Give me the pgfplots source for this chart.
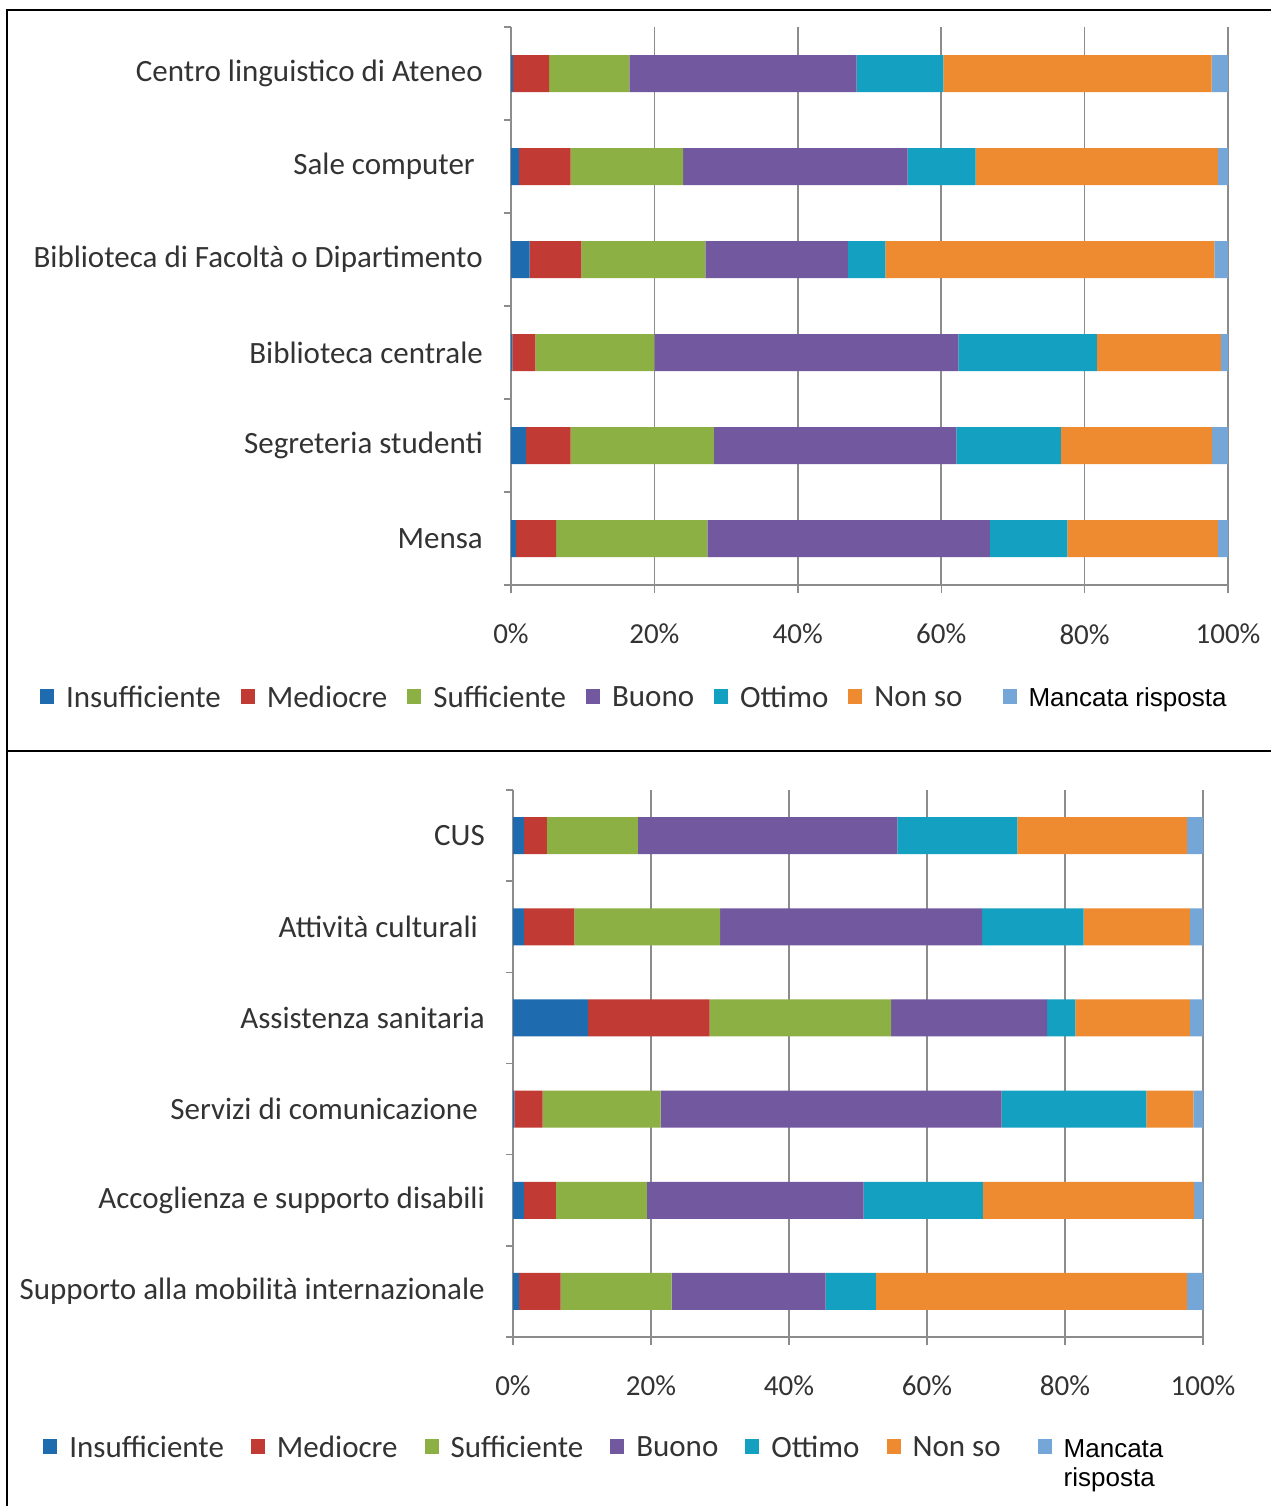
\documentclass[border=0pt]{standalone}
\usepackage{pgfplots}
\pgfplotsset{compat=1.18}
\usepackage{pgfplotstable}
\usepackage{fontspec}
\setmainfont{Carlito}
\newfontfamily\arialf{Liberation Sans}

\definecolor{cIns}{HTML}{1E6BB0}
\definecolor{cMed}{HTML}{C13A34}
\definecolor{cSuf}{HTML}{8CB044}
\definecolor{cBuo}{HTML}{71589F}
\definecolor{cOtt}{HTML}{14A0C0}
\definecolor{cNon}{HTML}{EE8A30}
\definecolor{cMan}{HTML}{75A6D8}
\definecolor{axisgray}{HTML}{8C8C8C}
\definecolor{labgray}{HTML}{333333}

% Shares of answers (percent), idx 0 = bottom bar
\pgfplotstableread{
idx ins med suf buo ott non man
5 0.3 5.0 11.2 31.7 12.1 37.4 2.3
4 1.1 7.2 15.7 31.3 9.5 33.8 1.4
3 2.6 7.2 17.3 19.9 5.2 45.9 1.9
2 0.2 3.2 16.6 42.4 19.3 17.3 1.0
1 2.1 6.2 20.0 33.8 14.6 21.1 2.2
0 0.7 5.6 21.1 39.4 10.8 21.0 1.4
}\servizia

\pgfplotstableread{
idx ins med suf buo ott non man
5 1.6 3.3 13.2 37.6 17.4 24.6 2.3
4 1.6 7.3 21.1 38.0 14.7 15.4 1.9
3 10.9 17.6 26.3 22.6 4.1 16.6 1.9
2 0.2 4.1 17.1 49.4 21.0 6.8 1.4
1 1.6 4.6 13.2 31.4 17.3 30.6 1.3
0 0.9 6.0 16.1 22.3 7.3 45.1 2.3
}\servizib

\pgfplotsset{
  svcbar/.style={
    xbar stacked, scale only axis, bar width=37pt,
    xmin=0, xmax=100, ymin=-0.5, ymax=5.5,
    xtick={0,20,40,60,80,100},
    xticklabels={0\%,20\%,40\%,60\%,80\%,100\%},
    ytick={0,1,2,3,4,5},
    minor ytick={-0.5,0.5,1.5,2.5,3.5,4.5,5.5},
    axis x line*=bottom, axis y line*=left,
    axis line style={draw=axisgray, line width=1.6pt, -},
    xmajorgrids, grid style={draw=axisgray, line width=1.6pt},
    tick align=outside,
    major tick length=8pt, minor tick length=7pt,
    tick style={draw=axisgray, line width=1.4pt},
    major y tick style={draw=none},
    /pgf/number format/assume math mode=true,
    every tick label/.append style={text=labgray},
    yticklabel style={font=\fontsize{31}{36}\selectfont, inner sep=0pt, xshift=-20pt},
    xticklabel style={font=\fontsize{29}{34}\selectfont, inner sep=0pt},
    legend columns=7,
    legend cell align=left,
    legend image code/.code={\fill[##1] (0pt,-6pt) rectangle (14pt,9pt);},
    every axis plot/.append style={draw=none},
  }
}

\begin{document}
\begin{tikzpicture}
\useasboundingbox (0pt,0pt) rectangle (1271pt,-1506pt);
% frame lines
\draw[line width=2pt] (7pt,-1506pt) -- (7pt,-10pt) -- (1271pt,-10pt);
\draw[line width=2pt] (7pt,-751pt) -- (1271pt,-751pt);

\begin{axis}[svcbar,
  at={(511pt,-585pt)}, anchor=south west,
  width=717pt, height=558pt,
  xticklabel style={yshift=-31pt},
  yticklabels={Mensa, Segreteria studenti, Biblioteca centrale,
    Biblioteca di Facoltà o Dipartimento, Sale computer\hspace*{8pt},
    Centro linguistico di Ateneo},
  legend style={at={(-0.657,-0.1774)}, anchor=north west, draw=none, fill=none,
    inner sep=0pt, font=\fontsize{31}{36}\selectfont, text=labgray,
    /tikz/every odd column/.append style={column sep=10pt},
    /tikz/every even column/.append style={column sep=18pt}},
]
\addplot[fill=cIns] table[y=idx, x=ins] {\servizia};
\addplot[fill=cMed] table[y=idx, x=med] {\servizia};
\addplot[fill=cSuf] table[y=idx, x=suf] {\servizia};
\addplot[fill=cBuo] table[y=idx, x=buo] {\servizia};
\addplot[fill=cOtt] table[y=idx, x=ott] {\servizia};
\addplot[fill=cNon] table[y=idx, x=non] {\servizia};
\addplot[fill=cMan] table[y=idx, x=man] {\servizia};
\addlegendentry{Insufficiente}
\addlegendentry{Mediocre}
\addlegendentry{Sufficiente}
\addlegendentry{Buono}
\addlegendentry{Ottimo}
\addlegendentry{Non so\hspace*{20pt}}
\addlegendentry{{\arialf\fontsize{26}{29}\selectfont\color{black}Mancata risposta}}
\end{axis}

\begin{axis}[svcbar,
  at={(513pt,-1337pt)}, anchor=south west,
  width=690pt, height=547pt,
  xticklabel style={yshift=-30pt},
  yticklabels={Supporto alla mobilità internazionale,
    Accoglienza e supporto disabili,
    Servizi di comunicazione\hspace*{7pt}, Assistenza sanitaria,
    Attività culturali\hspace*{7pt}, CUS},
  legend style={at={(-0.681,-0.1773)}, anchor=north west, draw=none, fill=none,
    inner sep=0pt, font=\fontsize{31}{36}\selectfont, text=labgray,
    /tikz/every odd column/.append style={column sep=10pt},
    /tikz/every even column/.append style={column sep=25pt}},
]
\addplot[fill=cIns] table[y=idx, x=ins] {\servizib};
\addplot[fill=cMed] table[y=idx, x=med] {\servizib};
\addplot[fill=cSuf] table[y=idx, x=suf] {\servizib};
\addplot[fill=cBuo] table[y=idx, x=buo] {\servizib};
\addplot[fill=cOtt] table[y=idx, x=ott] {\servizib};
\addplot[fill=cNon] table[y=idx, x=non] {\servizib};
\addplot[fill=cMan] table[y=idx, x=man] {\servizib};
\addlegendentry{Insufficiente}
\addlegendentry{Mediocre}
\addlegendentry{Sufficiente}
\addlegendentry{Buono}
\addlegendentry{Ottimo}
\addlegendentry{Non so\hspace*{10pt}}
\addlegendentry{{\arialf\fontsize{26}{29}\selectfont\color{black}\begin{tabular}[t]{@{}l@{}}Mancata\\risposta\end{tabular}}}
\end{axis}
\end{tikzpicture}
\end{document}
